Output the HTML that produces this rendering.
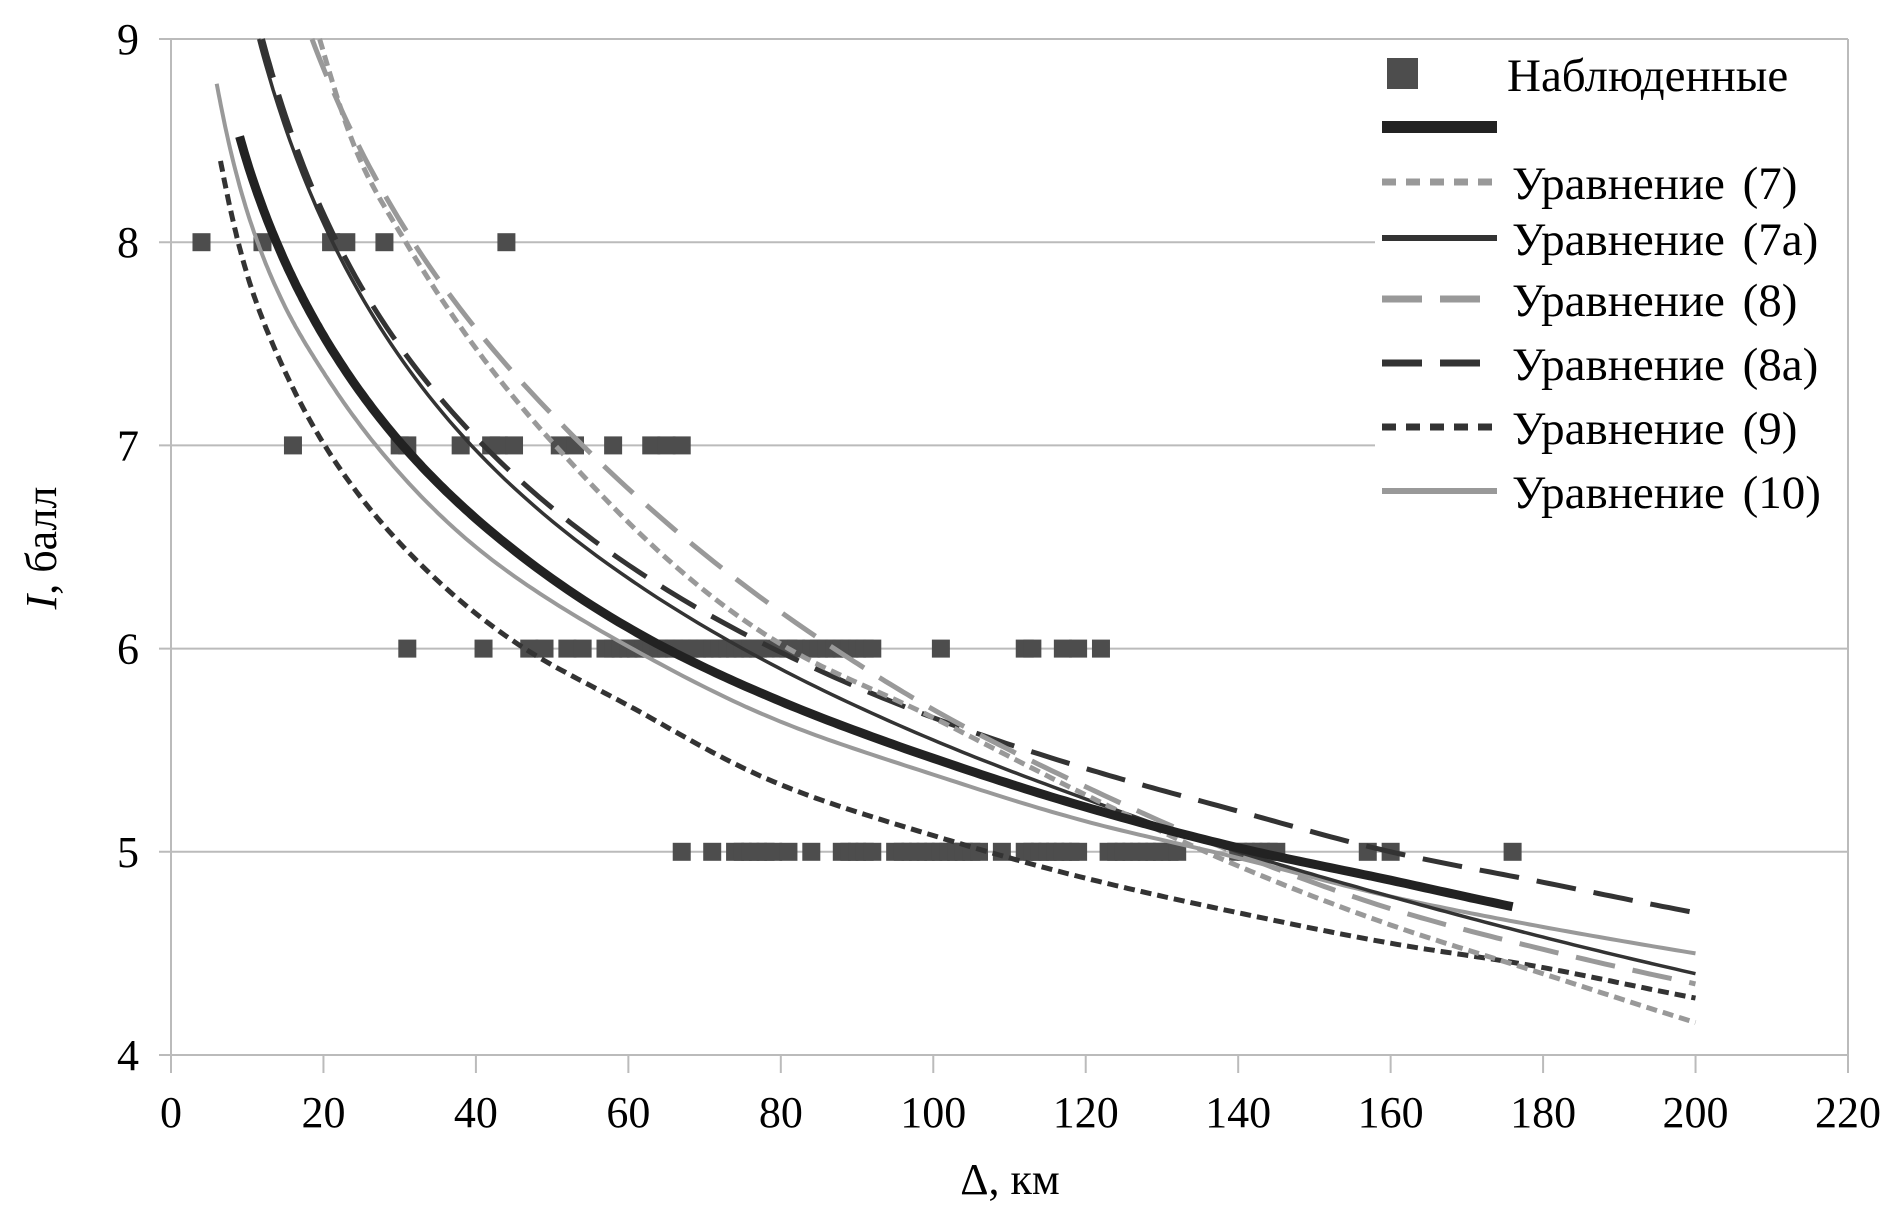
<!DOCTYPE html>
<html><head><meta charset="utf-8"><style>
html,body{margin:0;padding:0;background:#fff;}
svg{display:block;}
text{font-family:"Liberation Serif","DejaVu Serif",serif;}
</style></head><body>
<svg id="chart" width="1898" height="1211" viewBox="0 0 1898 1211" xmlns="http://www.w3.org/2000/svg">
<g id="grid"></g>
<g id="axes"></g>
<g id="series"></g>
<g id="legend"></g>
<text font-family="Liberation Serif, DejaVu Serif, serif" transform="translate(56,548) rotate(-90)" text-anchor="middle" font-size="44"><tspan font-style="italic">I</tspan>, балл</text>
<text font-family="Liberation Serif, DejaVu Serif, serif" x="1010" y="1194" text-anchor="middle" font-size="44">Δ, км</text>
</svg>
<script>
const xTicks=[0,20,40,60,80,100,120,140,160,180,200,220];
const yTicks=[4,5,6,7,8,9];
const obs8=[4,12,21,23,28,44];
const obs7=[16,30,31,38,42,43,45,51,53,58,63,65,67];
const obs6=[31,41,47,49,52,54,57,58,59,60,61,62,63,64,65,66,67,68,69,70,71,72,73,74,75,76,77,78,80,81,82,84,85,86,87,88,89,90,91,92,101,112,113,117,119,122];
const obs5=[67,71,74,75,76,77,78,79,81,84,88,89,90,91,92,95,96,97,98,99,100,101,102,103,104,105,106,109,112,113,114,115,116,117,118,119,123,124,125,126,127,128,129,130,131,132,140,141,142,143,144,145,157,160,176];
const fitX=[9,15,20,30.4,40,65,80,100,120,140,160,176];
const fitY=[8.52,7.9,7.54,7.0,6.64,6.0,5.74,5.46,5.22,5.02,4.86,4.73];
const eq7X=[19.5,24.3,30.8,50.4,81,100,120,140,160,180,200];
const eq7Y=[9.0,8.45,8.0,7.0,6.0,5.66,5.28,4.93,4.64,4.4,4.16];
const eq7aX=[11.5,21.2,39.4,75,100,120,140,160,180,200];
const eq7aY=[9.0,8.0,7.0,6.0,5.55,5.26,5.0,4.78,4.58,4.4];
const eq8X=[18.5,31.8,54,87,100,120,140,160,180,200];
const eq8Y=[9.0,8.0,7.0,6.0,5.7,5.32,4.99,4.72,4.52,4.35];
const eq8aX=[12,21.8,41,79,100,120,140,160,180,200];
const eq8aY=[9.0,8.0,7.0,6.0,5.66,5.41,5.2,5.0,4.85,4.7];
const eq9X=[6.5,10,15,20,30,46.4,60,80,100,120,140,160,180,200];
const eq9Y=[8.4,7.84,7.36,7.01,6.52,6.0,5.72,5.33,5.08,4.87,4.7,4.55,4.43,4.28];
const eq10X=[6,10,15,20,26.9,40,60.5,80,100,120,140,160,180,200];
const eq10Y=[8.78,8.15,7.68,7.36,7.0,6.5,6.0,5.64,5.38,5.15,4.97,4.78,4.63,4.5];

const L=171,R=1848,T=39,B=1055;
const X=v=>L+(v-0)/(220-0)*(R-L);
const Y=v=>B-(v-4)/(9-4)*(B-T);
const NS="http://www.w3.org/2000/svg";
function mk(tag,parent,attrs){const e=document.createElementNS(NS,tag);for(const k in attrs)e.setAttribute(k,attrs[k]);parent.appendChild(e);return e;}
const grid=document.getElementById('grid'),axes=document.getElementById('axes'),series=document.getElementById('series'),legend=document.getElementById('legend');
const FF="Liberation Serif, DejaVu Serif, serif";

yTicks.forEach(t=>{
  if(t>4){const g=mk('line',grid,{x1:L-12,x2:R,y1:Y(t),y2:Y(t),stroke:'#bbb','stroke-width':2});
  
  }
  const tx=mk('text',axes,{x:139,y:Y(t)+15,'text-anchor':'end','font-size':44,'font-family':FF});
  tx.textContent=t;
  
  
});
xTicks.forEach(t=>{
  const tk=mk('line',axes,{x1:X(t),x2:X(t),y1:B,y2:B+18,stroke:'#bbb','stroke-width':2});
  
  
  const tx=mk('text',axes,{x:X(t),y:1127,'text-anchor':'middle','font-size':44,'font-family':FF});
  tx.textContent=t;
  
  
});
const ya=mk('line',axes,{x1:L,x2:L,y1:T,y2:B,stroke:'#bbb','stroke-width':2});


const xa=mk('line',axes,{x1:L-12,x2:R,y1:B,y2:B,stroke:'#bbb','stroke-width':2});


const ra=mk('line',axes,{x1:R,x2:R,y1:T,y2:B,stroke:'#bbb','stroke-width':2});



[[obs8,8],[obs7,7],[obs6,6],[obs5,5]].forEach(([arr,lvl])=>{
  arr.forEach(d=>{
    const r=mk('rect',series,{x:X(d)-9,y:Y(lvl)-9,width:18,height:18,fill:'#4d4d4d'});
    
    
  });
});

// Hermite interpolation in (ln x, y) space, densely sampled
function smooth(xs,ys){
  const u=xs.map(Math.log);
  const pts=[];
  const n=u.length;
  const d=[];
  for(let i=0;i<n-1;i++)d.push((ys[i+1]-ys[i])/(u[i+1]-u[i]));
  const m=u.map((_,i)=>{
    if(i===0)return d[0];
    if(i===n-1)return d[n-2];
    const h0=u[i]-u[i-1],h1=u[i+1]-u[i];
    return (d[i-1]*h1+d[i]*h0)/(h0+h1);
  });
  for(let i=0;i<n-1;i++){
    const h=u[i+1]-u[i];
    for(let s=0;s<24;s++){
      const t=s/24,t2=t*t,t3=t2*t;
      const yv=(2*t3-3*t2+1)*ys[i]+(t3-2*t2+t)*h*m[i]+(-2*t3+3*t2)*ys[i+1]+(t3-t2)*h*m[i+1];
      const xv=Math.exp(u[i]+t*h);
      pts.push([X(xv),Y(yv)]);
    }
  }
  pts.push([X(xs[n-1]),Y(ys[n-1])]);
  return 'M'+pts.map(p=>p[0].toFixed(1)+','+p[1].toFixed(1)).join('L');
}
const styles={
 eq10:{c:'#999',w:4,da:''},
 eq9:{c:'#333',w:5,da:'11,6'},
 eq8a:{c:'#333',w:5,da:'40,18'},
 eq8:{c:'#999',w:5,da:'40,18'},
 eq7a:{c:'#333',w:3.5,da:''},
 eq7:{c:'#999',w:5,da:'11,6'},
 fit:{c:'#222',w:9,da:''}
};
const curves=[['eq10',eq10X,eq10Y],['eq9',eq9X,eq9Y],['eq8a',eq8aX,eq8aY],['eq8',eq8X,eq8Y],['eq7a',eq7aX,eq7aY],['eq7',eq7X,eq7Y],['fit',fitX,fitY]];
curves.forEach(([k,xs,ys])=>{
  const s=styles[k];
  const p=mk('path',series,{d:smooth(xs,ys),fill:'none',stroke:s.c,'stroke-width':s.w,'stroke-dasharray':s.da});
  
  
});

// legend
const bg=mk('rect',legend,{x:1375,y:41,width:472,height:488,fill:'#fff'});


const sq=mk('rect',legend,{x:1387,y:58,width:31,height:31,fill:'#4d4d4d'});


const t0=mk('text',legend,{x:1507,y:91,'font-size':47,'font-family':FF});
t0.textContent='Наблюденные';


const rows=[['fit',127,''],['eq7',182,'Уравнение (7)'],['eq7a',238,'Уравнение (7а)'],['eq8',299,'Уравнение (8)'],['eq8a',363,'Уравнение (8а)'],['eq9',427,'Уравнение (9)'],['eq10',491,'Уравнение (10)']];
rows.forEach(([k,y,lab])=>{
  const s=styles[k];
  const w=k==='fit'?12:(k==='eq7a'||k==='eq10'?6:7);
  const ln=mk('line',legend,{x1:1382,x2:1497,y1:y,y2:y,stroke:s.c,'stroke-width':w,'stroke-dasharray':s.da==='11,6'?'14,10':(s.da?'40,18':'')});
  
  
  if(lab){
    const t=mk('text',legend,{x:1512,y:y+17,'font-size':47,'font-family':FF,'word-spacing':'6'});
    t.textContent=lab;
    
    
  }
});
</script>
</body></html>
